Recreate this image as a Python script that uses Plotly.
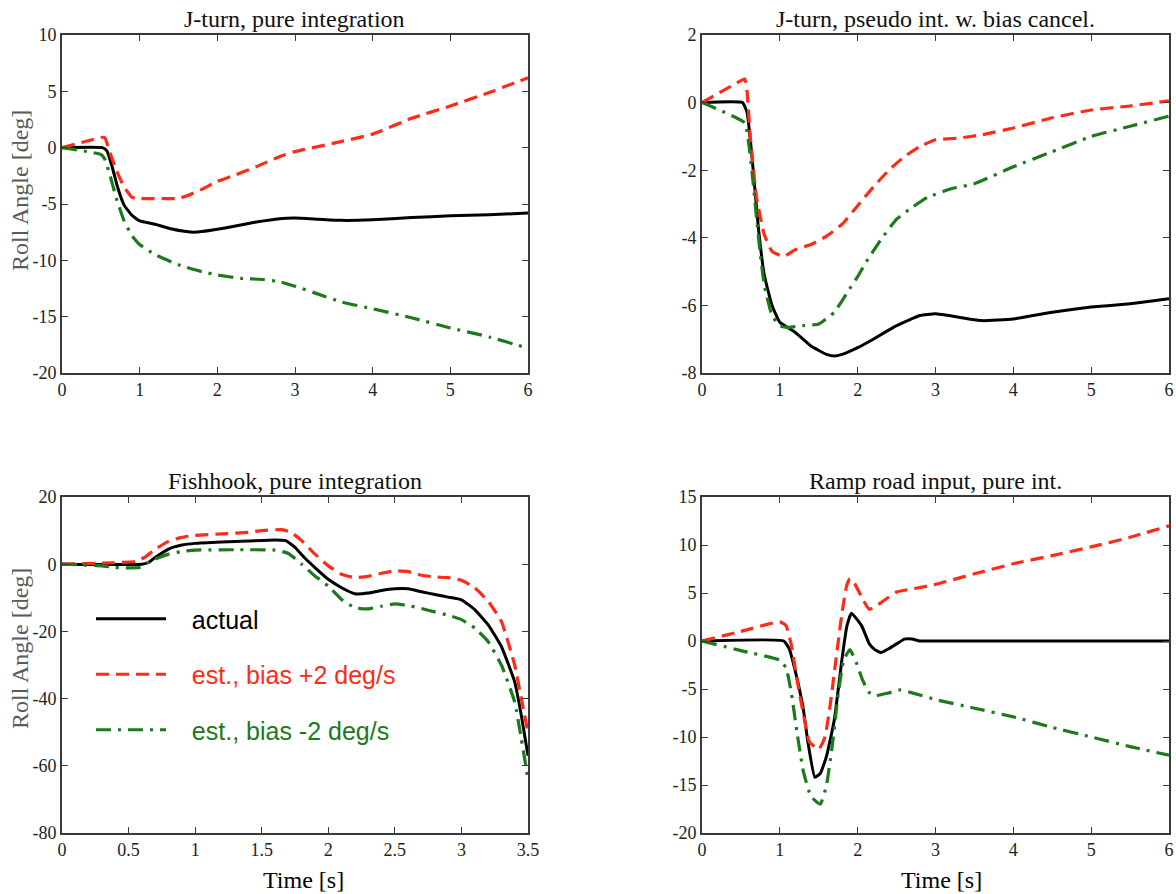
import plotly.graph_objects as go

# ---------------- data ----------------
# J-turn actual roll angle (same manoeuvre in both top panels)
jt_actual_t = [0, 0.52, 0.58, 0.65, 0.72, 0.8, 0.9, 1.0, 1.2, 1.4, 1.6, 1.7, 1.8, 2.0, 2.2, 2.5, 2.8, 3.0, 3.3, 3.6, 4.0, 4.5, 5.0, 5.5, 6.0]
jt_actual_y = [0, 0, -0.3, -1.8, -3.6, -5.1, -6.0, -6.5, -6.8, -7.2, -7.45, -7.5, -7.45, -7.25, -7.0, -6.6, -6.3, -6.25, -6.35, -6.45, -6.4, -6.2, -6.05, -5.95, -5.8]

# J-turn, pure integration
jp_red_t = [0, 0.5, 0.55, 0.62, 0.7, 0.8, 0.9, 0.95, 1.5, 1.6, 1.8, 2.0, 2.2, 2.5, 2.8, 3.0, 3.5, 4.0, 4.5, 5.0, 5.5, 6.0]
jp_red_y = [0, 0.9, 0.9, -0.5, -2.0, -3.5, -4.4, -4.5, -4.5, -4.3, -3.7, -3.0, -2.5, -1.7, -0.8, -0.35, 0.4, 1.2, 2.6, 3.7, 4.9, 6.2]
jp_grn_t = [0, 0.5, 0.55, 0.62, 0.7, 0.8, 0.9, 1.0, 1.2, 1.5, 1.8, 2.0, 2.3, 2.6, 2.8, 3.0, 3.3, 3.6, 4.0, 4.5, 5.0, 5.5, 6.0]
jp_grn_y = [0, -0.6, -1.0, -2.5, -4.5, -6.5, -7.8, -8.6, -9.5, -10.4, -11.0, -11.3, -11.6, -11.7, -11.9, -12.3, -13.0, -13.7, -14.3, -15.1, -16.0, -16.8, -17.8]

# J-turn, pseudo integration with bias cancellation
jb_red_t = [0, 0.5, 0.55, 0.58, 0.62, 0.7, 0.8, 0.9, 1.05, 1.2, 1.4, 1.6, 1.8, 2.0, 2.2, 2.4, 2.6, 2.8, 3.0, 3.3, 3.6, 4.0, 4.5, 5.0, 5.5, 6.0]
jb_red_y = [0, 0.65, 0.7, 0.3, -1.0, -2.8, -3.9, -4.4, -4.55, -4.35, -4.2, -3.95, -3.6, -3.05, -2.5, -2.0, -1.6, -1.3, -1.1, -1.05, -0.95, -0.75, -0.45, -0.22, -0.1, 0.05]
jb_grn_t = [0, 0.55, 0.6, 0.65, 0.7, 0.75, 0.8, 0.9, 1.0, 1.1, 1.3, 1.5, 1.7, 1.9, 2.0, 2.1, 2.3, 2.5, 2.7, 2.9, 3.2, 3.5, 4.0, 4.5, 5.0, 5.5, 6.0]
jb_grn_y = [0, -0.6, -1.2, -2.2, -3.4, -4.5, -5.4, -6.3, -6.6, -6.65, -6.6, -6.55, -6.2, -5.5, -5.15, -4.75, -4.05, -3.45, -3.1, -2.8, -2.55, -2.4, -1.9, -1.45, -1.0, -0.7, -0.4]

# Fishhook, pure integration
fh_act_t = [0, 0.6, 0.65, 0.7, 0.8, 0.9, 1.0, 1.2, 1.4, 1.6, 1.68, 1.75, 1.82, 1.9, 2.0, 2.1, 2.2, 2.3, 2.4, 2.5, 2.6, 2.7, 2.8, 2.9, 3.0, 3.1, 3.2, 3.3, 3.4, 3.45, 3.5]
fh_act_y = [0, 0, 0.5, 2.0, 4.5, 5.7, 6.2, 6.6, 6.9, 7.2, 7.0, 5.0, 2.0, -1.0, -4.5, -7.0, -8.8, -8.6, -7.8, -7.3, -7.3, -8.2, -9.0, -9.8, -10.6, -13.5, -18.0, -24.5, -35.0, -45.0, -57.0]
fh_red_t = [0, 0.3, 0.55, 0.62, 0.7, 0.8, 0.9, 1.0, 1.2, 1.4, 1.5, 1.65, 1.72, 1.8, 1.9, 2.0, 2.1, 2.2, 2.3, 2.4, 2.5, 2.6, 2.7, 2.8, 2.9, 3.0, 3.1, 3.2, 3.3, 3.4, 3.45, 3.5]
fh_red_y = [0, 0.3, 0.8, 2.0, 4.5, 6.8, 8.0, 8.6, 9.0, 9.5, 10.0, 10.3, 9.5, 7.0, 3.0, -0.5, -3.0, -4.0, -3.6, -2.7, -2.0, -2.2, -3.3, -3.8, -4.0, -4.8, -7.0, -11.0, -17.0, -30.0, -40.0, -50.0]
fh_grn_t = [0, 0.3, 0.4, 0.58, 0.62, 0.7, 0.8, 0.9, 1.0, 1.3, 1.6, 1.7, 1.8, 1.9, 2.0, 2.1, 2.2, 2.3, 2.4, 2.5, 2.6, 2.7, 2.8, 2.9, 3.0, 3.1, 3.2, 3.3, 3.4, 3.45, 3.5]
fh_grn_y = [0, -0.5, -1.0, -1.0, 0.0, 1.5, 3.0, 3.8, 4.2, 4.3, 4.2, 3.2, 0.0, -3.5, -6.5, -10.5, -13.0, -13.3, -12.5, -11.8, -12.3, -13.2, -14.2, -15.2, -16.5, -19.0, -23.0, -30.0, -41.0, -52.0, -64.0]

# Ramp road input, pure integration
rr_act_t = [0, 1.05, 1.12, 1.2, 1.3, 1.36, 1.45, 1.52, 1.6, 1.7, 1.8, 1.86, 1.92, 2.05, 2.15, 2.22, 2.3, 2.4, 2.5, 2.6, 2.7, 2.8, 3.0, 6.0]
rr_act_y = [0, 0, -0.8, -3.2, -7.0, -10.5, -14.2, -13.8, -12.0, -8.2, -1.8, 1.5, 2.9, 1.6, -0.3, -0.9, -1.2, -0.8, -0.3, 0.2, 0.2, 0.0, 0.0, 0.0]
rr_red_t = [0, 0.5, 1.0, 1.08, 1.15, 1.22, 1.3, 1.38, 1.5, 1.58, 1.65, 1.72, 1.8, 1.86, 1.9, 1.96, 2.05, 2.15, 2.3, 2.5, 2.75, 3.0, 3.5, 4.0, 4.5, 5.0, 5.5, 6.0]
rr_red_y = [0, 1.0, 2.0, 1.6, -0.5, -4.0, -7.5, -10.5, -11.3, -10.0, -6.5, -2.0, 3.0, 5.8, 6.5, 6.0, 4.6, 3.3, 4.0, 5.1, 5.5, 5.9, 7.0, 8.05, 8.9, 9.8, 10.8, 12.0]
rr_grn_t = [0, 0.5, 1.0, 1.08, 1.15, 1.22, 1.3, 1.4, 1.52, 1.6, 1.68, 1.75, 1.82, 1.9, 1.98, 2.06, 2.14, 2.22, 2.4, 2.55, 2.7, 3.0, 3.5, 4.0, 4.5, 5.0, 5.5, 6.0]
rr_grn_y = [0, -1.0, -2.0, -2.8, -5.5, -9.5, -13.5, -16.2, -17.0, -15.0, -10.5, -5.5, -2.0, -0.9, -2.2, -4.0, -5.3, -5.7, -5.4, -5.1, -5.4, -6.1, -7.0, -7.9, -9.0, -10.0, -11.0, -11.9]

panel_titles = ["J-turn, pure integration", "J-turn, pseudo int. w. bias cancel.",
                "Fishhook, pure integration", "Ramp road input, pure int."]
legend_names = ["actual", "est., bias +2 deg/s", "est., bias -2 deg/s"]
y_title = "Roll Angle [deg]"
x_title = "Time [s]"

x6_vals = [0, 1, 2, 3, 4, 5, 6]
x6_text = ["0", "1", "2", "3", "4", "5", "6"]
x35_vals = [0, 0.5, 1, 1.5, 2, 2.5, 3, 3.5]
x35_text = ["0", "0.5", "1", "1.5", "2", "2.5", "3", "3.5"]
y1_vals = [10, 5, 0, -5, -10, -15, -20]
y1_text = ["10", "5", "0", "-5", "-10", "-15", "-20"]
y2_vals = [2, 0, -2, -4, -6, -8]
y2_text = ["2", "0", "-2", "-4", "-6", "-8"]
y3_vals = [20, 0, -20, -40, -60, -80]
y3_text = ["20", "0", "-20", "-40", "-60", "-80"]
y4_vals = [15, 10, 5, 0, -5, -10, -15, -20]
y4_text = ["15", "10", "5", "0", "-5", "-10", "-15", "-20"]

# ---------------- styling ----------------
W, H = 1176, 894
BLACK = "#000000"
RED = "#ff2b17"
GREEN = "#1c7a1c"
AX = "#3a3a3a"
SERIF = "Liberation Serif"
SANS = "Liberation Sans"

DASH = "13px,7px"
DASHDOT = "15px,7px,3px,7px"
NB = "\u00a0\u00a0\u00a0"

fig = go.Figure()

def add_panel(xa, ya, act, red, grn, show_legend=False):
    specs = [
        (act, BLACK, "solid", 3.0, f"<span style='color:{BLACK}'>{NB}{legend_names[0]}</span>"),
        (red, RED, DASH, 3.2, f"<span style='color:{RED}'>{NB}{legend_names[1]}</span>"),
        (grn, GREEN, DASHDOT, 3.2, f"<span style='color:{GREEN}'>{NB}{legend_names[2]}</span>"),
    ]
    for i, ((tx, ty), col, dash, w, nm) in enumerate(specs):
        fig.add_trace(go.Scatter(
            x=tx, y=ty, mode="lines", xaxis=xa, yaxis=ya,
            line=dict(color=col, width=w, dash=dash, shape="spline", smoothing=0.4),
            name=nm, showlegend=show_legend, legendgroup=f"g{i}",
        ))

add_panel("x", "y", (jt_actual_t, jt_actual_y), (jp_red_t, jp_red_y), (jp_grn_t, jp_grn_y))
add_panel("x2", "y2", (jt_actual_t, jt_actual_y), (jb_red_t, jb_red_y), (jb_grn_t, jb_grn_y))
add_panel("x3", "y3", (fh_act_t, fh_act_y), (fh_red_t, fh_red_y), (fh_grn_t, fh_grn_y), show_legend=True)
add_panel("x4", "y4", (rr_act_t, rr_act_y), (rr_red_t, rr_red_y), (rr_grn_t, rr_grn_y))

# pixel boxes of the four panels: (left, right, top, bottom)
boxes = [(62, 528, 35, 373), (702, 1169, 35, 373), (62, 528, 497, 833), (702, 1169, 497, 833)]
xranges = [[0, 6], [0, 6], [0, 3.5], [0, 6]]
yranges = [[-20, 10], [-8, 2], [-80, 20], [-20, 15]]
xticks = [(x6_vals, x6_text), (x6_vals, x6_text), (x35_vals, x35_text), (x6_vals, x6_text)]
yticks = [(y1_vals, y1_text), (y2_vals, y2_text), (y3_vals, y3_text), (y4_vals, y4_text)]

common = dict(showline=True, linecolor=AX, linewidth=1.6, mirror="ticks",
              ticks="inside", ticklen=6, tickwidth=1.2, tickcolor=AX,
              showgrid=False, zeroline=False, automargin=False,
              tickfont=dict(family=SERIF, size=18, color="#222222"))

layout = {}
for i, (l, r, t, b) in enumerate(boxes):
    sfx = "" if i == 0 else str(i + 1)
    layout["xaxis" + sfx] = dict(common, domain=[l / W, r / W], range=xranges[i],
                                 tickmode="array", tickvals=xticks[i][0], ticktext=xticks[i][1],
                                 anchor="y" + sfx)
    layout["yaxis" + sfx] = dict(common, domain=[1 - b / H, 1 - t / H], range=yranges[i],
                                 tickmode="array", tickvals=yticks[i][0], ticktext=yticks[i][1],
                                 anchor="x" + sfx)

annotations = []
for i, (l, r, t, b) in enumerate(boxes):
    annotations.append(dict(
        text=panel_titles[i], xref="paper", yref="paper",
        x=(l + r) / 2 / W, y=1 - t / H, xanchor="center", yanchor="bottom",
        yshift=1, showarrow=False,
        font=dict(family=SERIF, size=24, color="#111111"),
    ))
# axis titles (y titles sit a little above the panel centre, as in the original)
for cy in (191, 649):
    annotations.append(dict(text=y_title, xref="paper", yref="paper",
                            x=20 / W, y=1 - cy / H, xanchor="center", yanchor="middle",
                            textangle=-90, showarrow=False,
                            font=dict(family=SERIF, size=24, color="#5a5a5a")))
for cx in (303, 942):
    annotations.append(dict(text=x_title, xref="paper", yref="paper",
                            x=cx / W, y=1 - 880 / H, xanchor="center", yanchor="middle",
                            showarrow=False,
                            font=dict(family=SERIF, size=24, color=BLACK)))

fig.update_layout(
    **layout,
    annotations=annotations,
    width=W, height=H,
    margin=dict(l=0, r=0, t=0, b=0),
    paper_bgcolor="white", plot_bgcolor="white",
    showlegend=True,
    legend=dict(x=91 / W, y=1 - 596 / H, xanchor="left", yanchor="top",
                bgcolor="rgba(0,0,0,0)", borderwidth=0,
                font=dict(family=SANS, size=25, color=BLACK),
                tracegroupgap=20, itemwidth=70),
)

fig.write_html("out.html", config={"displayModeBar": False},
               post_script="document.body.style.margin='0px';")
